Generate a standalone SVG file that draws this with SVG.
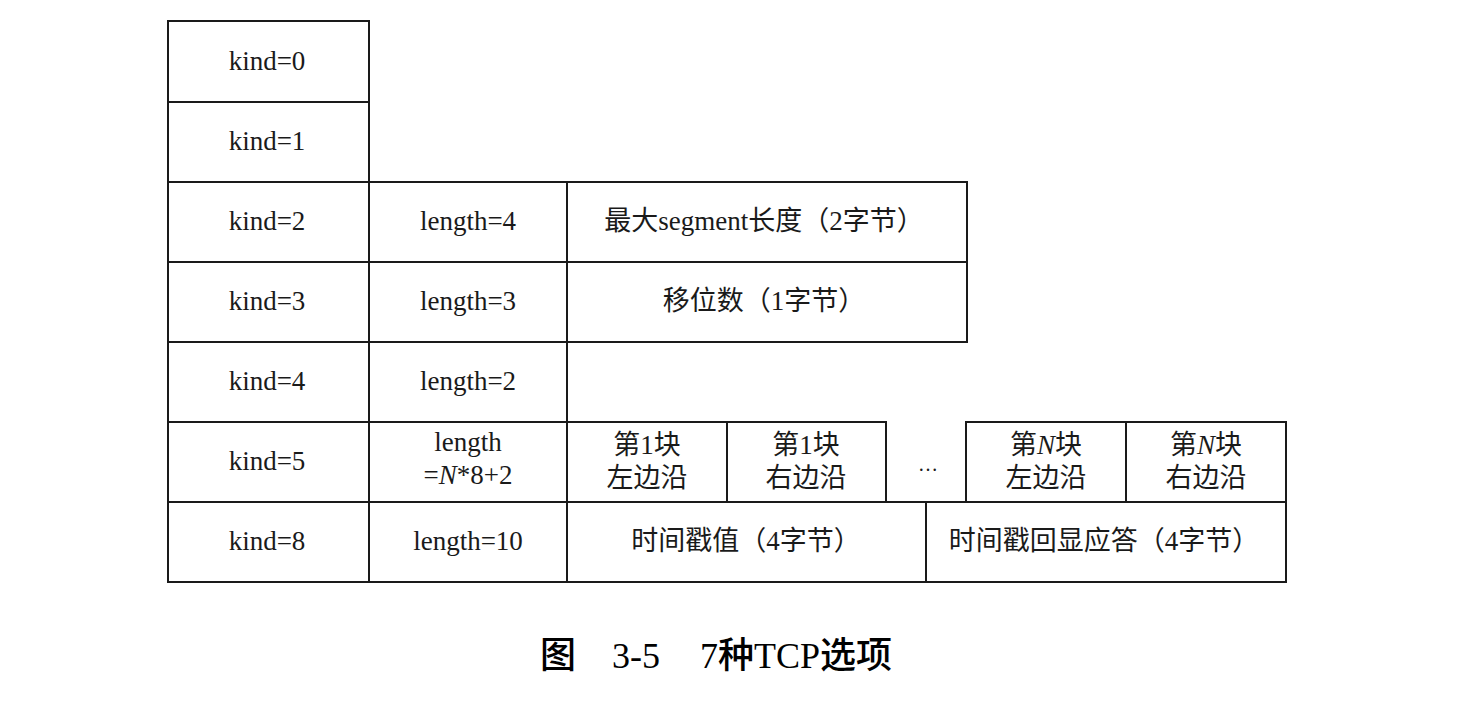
<svg xmlns="http://www.w3.org/2000/svg" width="1474" height="714" viewBox="0 0 1474 714">
<style>
.c{fill:#fff;stroke:#1a1a1a;stroke-width:2}
.t{font-family:"Liberation Serif","Noto Sans CJK SC",serif;font-size:27px;fill:#1a1a1a;text-anchor:middle}
.cap{font-family:"Liberation Serif","Noto Sans CJK SC",serif;font-size:36px;fill:#000;font-weight:500}
</style>
<rect width="1474" height="714" fill="#fff"/>
<g id="row-kind0">
<rect class="c" x="168" y="21" width="201" height="81"/>
<text class="t" x="267" y="70">kind=0</text>
</g>
<g id="row-kind1">
<rect class="c" x="168" y="102" width="201" height="80"/>
<text class="t" x="267" y="150">kind=1</text>
</g>
<g id="row-kind2">
<rect class="c" x="168" y="182" width="201" height="80"/>
<rect class="c" x="369" y="182" width="198" height="80"/>
<rect class="c" x="567" y="182" width="400" height="80"/>
<text class="t" x="267" y="230">kind=2</text>
<text class="t" x="468" y="230">length=4</text>
<text class="t" x="764" y="230">最大segment长度（2字节）</text>
</g>
<g id="row-kind3">
<rect class="c" x="168" y="262" width="201" height="80"/>
<rect class="c" x="369" y="262" width="198" height="80"/>
<rect class="c" x="567" y="262" width="400" height="80"/>
<text class="t" x="267" y="310">kind=3</text>
<text class="t" x="468" y="310">length=3</text>
<text class="t" x="764" y="310">移位数（1字节）</text>
</g>
<g id="row-kind4">
<rect class="c" x="168" y="342" width="201" height="80"/>
<rect class="c" x="369" y="342" width="198" height="80"/>
<text class="t" x="267" y="390">kind=4</text>
<text class="t" x="468" y="390">length=2</text>
</g>
<g id="row-kind5">
<rect class="c" x="168" y="422" width="201" height="80"/>
<rect class="c" x="369" y="422" width="198" height="80"/>
<rect class="c" x="567" y="422" width="160" height="80"/>
<rect class="c" x="727" y="422" width="159" height="80"/>
<rect class="c" x="966" y="422" width="160" height="80"/>
<rect class="c" x="1126" y="422" width="160" height="80"/>
<text class="t" x="267" y="470">kind=5</text>
<text class="t" x="468" y="451">length</text>
<text class="t" x="468" y="484">=<tspan font-style="italic">N</tspan>*8+2</text>
<text class="t" x="647" y="454">第1块</text>
<text class="t" x="647" y="487">左边沿</text>
<text class="t" x="806" y="454">第1块</text>
<text class="t" x="806" y="487">右边沿</text>
<text class="t" x="928" y="471" style="font-size:20px">…</text>
<text class="t" x="1046" y="454">第<tspan font-style="italic">N</tspan>块</text>
<text class="t" x="1046" y="487">左边沿</text>
<text class="t" x="1206" y="454">第<tspan font-style="italic">N</tspan>块</text>
<text class="t" x="1206" y="487">右边沿</text>
</g>
<g id="row-kind8">
<rect class="c" x="168" y="502" width="201" height="80"/>
<rect class="c" x="369" y="502" width="198" height="80"/>
<rect class="c" x="567" y="502" width="359" height="80"/>
<rect class="c" x="926" y="502" width="360" height="80"/>
<text class="t" x="267" y="550">kind=8</text>
<text class="t" x="468" y="550">length=10</text>
<text class="t" x="746" y="550">时间戳值（4字节）</text>
<text class="t" x="1104" y="550">时间戳回显应答（4字节）</text>
</g>
<g id="connectors"/>
<g id="caption">
<text class="cap" x="540" y="668">图</text>
<text class="cap" x="612" y="668">3-5</text>
<text class="cap" x="700" y="668">7种TCP选项</text>
</g>
</svg>
